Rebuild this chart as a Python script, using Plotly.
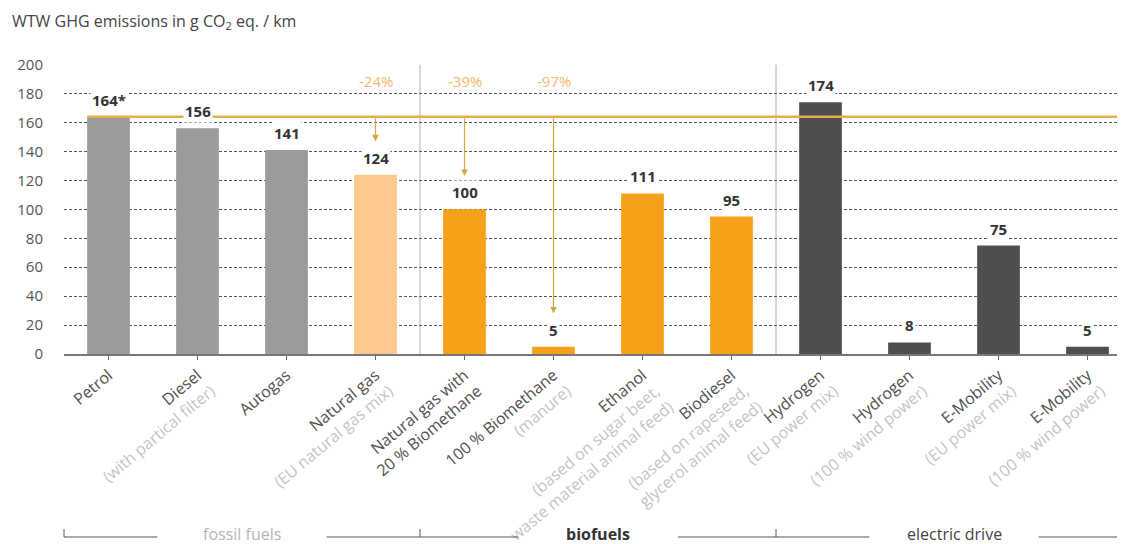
import plotly.graph_objects as go

# ---- data ----
main_labels = ["Petrol", "Diesel", "Autogas", "Natural gas", "Natural gas with",
               "100 % Biomethane", "Ethanol", "Biodiesel", "Hydrogen", "Hydrogen",
               "E-Mobility", "E-Mobility"]
sub_labels = ["", "(with partical filter)", "", "(EU natural gas mix)", "20 % Biomethane",
              "(manure)", "(based on sugar beet,<br>waste material animal feed)",
              "(based on rapeseed,<br>glycerol animal feed)", "(EU power mix)",
              "(100 % wind power)", "(EU power mix)", "(100 % wind power)"]
values = [164, 156, 141, 124, 100, 5, 111, 95, 174, 8, 75, 5]
value_labels = ["164*", "156", "141", "124", "100", "5", "111", "95", "174", "8", "75", "5"]
groups = ["fossil", "fossil", "fossil", "gas", "bio", "bio", "bio", "bio",
          "elec", "elec", "elec", "elec"]
reduction_idx = [3, 4, 5]
reduction_text = ["-24%", "-39%", "-97%"]
reference_value = 164
group_names = ["fossil fuels", "biofuels", "electric drive"]
group_bounds = [(-0.5, 3.5), (3.5, 7.5), (7.5, 11.5)]
yticks = list(range(0, 201, 20))

# ---- style ----
colors = {"fossil": "#9b9b9d", "gas": "#fdc98e", "bio": "#f7a11a", "elec": "#4e4f51"}
sub_dark = [False, False, False, False, True, False, False, False, False, False, False, False]
FONT = "Open Sans"
gold = "#e3b04b"
BAR_W = 0.48

n = len(values)
x = list(range(n))
ticktext = []
for m, s, dk in zip(main_labels, sub_labels, sub_dark):
    if not s:
        ticktext.append(m)
    elif dk:
        ticktext.append(f"{m}<br>{s}")
    else:
        ticktext.append(f"{m}<br><span style='color:#c4c4c4'>{s}</span>")

fig = go.Figure()
fig.add_trace(go.Bar(x=x, y=values, marker=dict(color=[colors[g] for g in groups], line=dict(width=0)),
                     width=BAR_W, hoverinfo="skip"))

# page body has an 8px margin -> figure coordinates are screen minus 8
OFF = 8
W, H = 1125 - OFF, 544 - OFF
ml = 64 - OFF
mt = 64 - OFF
plot_bottom = 354 - OFF
mb = H - plot_bottom
xmin = -0.5
cat_px = 89.0
xmax = xmin + (W - ml) / cat_px

def xpaper(v):
    return (v - xmin) / (xmax - xmin)

ph = H - mt - mb
def ypaper(screen_px):
    return (plot_bottom - (screen_px - OFF)) / ph

shapes = []
# reference line (starts at the left edge of the reference bar)
shapes.append(dict(type="line", xref="x", yref="y", x0=-BAR_W / 2, x1=xmax, y0=reference_value,
                   y1=reference_value, line=dict(color=gold, width=2.5), layer="above"))
# separators
for b in [3.5, 7.5]:
    shapes.append(dict(type="line", xref="x", yref="y", x0=b, x1=b, y0=0, y1=200,
                       line=dict(color="#b0b0b0", width=1), layer="below"))

annotations = []
for i, (v, t) in enumerate(zip(values, value_labels)):
    annotations.append(dict(x=i, y=v, xref="x", yref="y", text=f"<b>{t}</b>", showarrow=False,
                            yshift=17, font=dict(family=FONT, size=15, color="#333333"),
                            bgcolor="white", borderpad=1))
for i, t in zip(reduction_idx, reduction_text):
    annotations.append(dict(x=i, y=189, xref="x", yref="y", text=t, showarrow=False,
                            font=dict(family=FONT, size=15, color="#f2b86a"), bgcolor="white"))
    annotations.append(dict(x=i, y=values[i] + 23, xref="x", yref="y", ax=i, ay=reference_value,
                            axref="x", ayref="y", text="", showarrow=True, arrowhead=2,
                            arrowsize=1.1, arrowwidth=1.2, arrowcolor="#d9a441"))

# group brackets at the bottom
ly = ypaper(537)
ty = ypaper(529)
txt_y = ypaper(534)
gap_half = {"fossil fuels": 0.95, "biofuels": 0.9, "electric drive": 0.95}
gcolors = {"fossil fuels": "#b5b5b5", "biofuels": "#333333", "electric drive": "#444444"}
for name, (a, b) in zip(group_names, group_bounds):
    c = (a + b) / 2
    gh = gap_half[name]
    for x0, x1 in [(a, c - gh), (c + gh, min(b, xmax))]:
        shapes.append(dict(type="line", xref="paper", yref="paper", x0=xpaper(x0), x1=xpaper(x1),
                           y0=ly, y1=ly, line=dict(color="#555555", width=1)))
    annotations.append(dict(x=xpaper(c), y=txt_y, xref="paper", yref="paper",
                            text=(f"<b>{name}</b>" if name == "biofuels" else name),
                            showarrow=False, xanchor="center", yanchor="middle",
                            font=dict(family=FONT, size=16, color=gcolors[name])))
for bnd in [-0.5, 3.5, 7.5]:
    shapes.append(dict(type="line", xref="paper", yref="paper", x0=xpaper(bnd), x1=xpaper(bnd),
                       y0=ly, y1=ty, line=dict(color="#555555", width=1)))

annotations.append(dict(x=-(ml - (10 - OFF)) / (W - ml), y=ypaper(22), xref="paper", yref="paper",
                        text="WTW GHG emissions in g CO<sub>2</sub> eq. / km", showarrow=False,
                        xanchor="left", yanchor="middle",
                        font=dict(family=FONT, size=16, color="#444444")))

fig.update_layout(
    width=W, height=H, margin=dict(l=ml, r=0, t=mt, b=mb, autoexpand=False),
    paper_bgcolor="white", plot_bgcolor="white", showlegend=False,
    shapes=shapes, annotations=annotations, bargap=0.5,
    font=dict(family=FONT),
)
fig.update_xaxes(range=[xmin, xmax], tickmode="array", tickvals=x, ticktext=ticktext,
                 tickangle=-40, tickson="boundaries", ticks="outside", ticklen=4,
                 tickcolor="#666666", showline=True, linecolor="#777777", linewidth=1.5,
                 showgrid=False, tickfont=dict(family=FONT, size=16, color="#505050"),
                 zeroline=False, automargin=False)
fig.update_yaxes(range=[0, 200.5], tickvals=yticks, showgrid=True, gridcolor="#555555",
                 griddash="3px,2px", gridwidth=1, zeroline=False, showline=False,
                 ticks="", ticklabelstandoff=20, automargin=False,
                 tickfont=dict(family=FONT, size=15, color="#555555"))

fig.write_html("out.html")
